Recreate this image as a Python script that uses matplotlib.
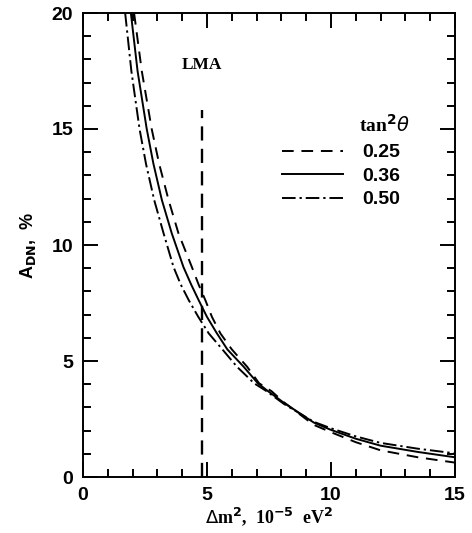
import matplotlib
matplotlib.use("Agg")
import matplotlib.pyplot as plt
from matplotlib.ticker import MultipleLocator

# Data (Δm² in 1e-5 eV², A_DN in %)
dm2_025 = [2.06, 2.37, 2.77, 3.07, 3.45, 3.85, 4.39, 4.66, 4.93, 5.20, 5.54, 6.00, 6.62, 7.10, 7.60, 8.10, 9.30, 10.0, 11.0, 12.0, 13.5, 15.0]
adn_025 = [20.0, 17.5, 15.0, 13.5, 11.94, 10.5, 9.05, 8.3, 7.63, 6.9, 6.19, 5.5, 4.75, 4.04, 3.7, 3.22, 2.25, 1.93, 1.50, 1.15, 0.85, 0.62]

dm2_036 = [1.93, 2.20, 2.57, 2.84, 3.18, 3.58, 4.05, 4.36, 4.66, 5.00, 5.40, 5.82, 6.48, 7.05, 7.46, 8.10, 9.30, 10.0, 11.0, 12.0, 13.5, 15.0]
adn_036 = [20.0, 17.5, 15.0, 13.5, 11.94, 10.5, 9.05, 8.3, 7.63, 6.9, 6.19, 5.5, 4.75, 4.04, 3.7, 3.20, 2.35, 2.03, 1.65, 1.35, 1.08, 0.85]

dm2_050 = [1.70, 1.95, 2.28, 2.54, 2.87, 3.25, 3.65, 3.94, 4.26, 4.65, 5.07, 5.62, 6.21, 6.90, 7.40, 8.10, 9.30, 10.0, 11.0, 12.0, 13.5, 15.0]
adn_050 = [20.0, 17.5, 15.0, 13.5, 11.94, 10.5, 9.05, 8.3, 7.63, 6.9, 6.19, 5.5, 4.75, 4.04, 3.7, 3.15, 2.38, 2.10, 1.75, 1.47, 1.22, 1.02]

labels = ["0.25", "0.36", "0.50"]
lma_dm2 = 4.8
lma_top = 15.8

fig = plt.figure(figsize=(4.72, 5.33), dpi=100)
ax = fig.add_axes([83/472, 1-477/533, 372/472, 464/533])

lw = 1.4
ax.plot(dm2_025, adn_025, color="black", lw=lw, dashes=(6, 4), label=labels[0])
ax.plot(dm2_036, adn_036, color="black", lw=lw, label=labels[1])
ax.plot(dm2_050, adn_050, color="black", lw=lw, dashes=(7, 2, 1.2, 2), label=labels[2])

ax.vlines(lma_dm2, 0, lma_top, color="black", lw=1.7, linestyles=(0, (6, 3.5)))

ax.set_xlim(0, 15)
ax.set_ylim(0, 20)
ax.xaxis.set_major_locator(MultipleLocator(5))
ax.xaxis.set_minor_locator(MultipleLocator(1))
ax.yaxis.set_major_locator(MultipleLocator(5))
ax.yaxis.set_minor_locator(MultipleLocator(1))
ax.tick_params(which="both", direction="in", top=True, right=True, width=1.4)
ax.tick_params(which="major", length=11, pad=7)
ax.tick_params(which="minor", length=6)
for s in ax.spines.values():
    s.set_linewidth(1.4)

for lab in ax.get_xticklabels() + ax.get_yticklabels():
    lab.set_fontfamily("Liberation Sans")
    lab.set_fontweight("bold")
    lab.set_fontsize(14)

ax.set_xlabel(r"$\Delta$m$^{\mathbf{2}}$,  10$^{\mathbf{-5}}$  eV$^{\mathbf{2}}$",
              family="Liberation Serif", weight="bold", size=13, labelpad=1)
ax.set_ylabel(r"A$_{\mathbf{DN}}$,  %", family="Liberation Sans", weight="bold",
              size=13, labelpad=10)

ax.text(lma_dm2, 17.75, "LMA", family="Liberation Serif", weight="bold", size=12.5,
        ha="center", va="center")

leg = ax.legend(loc="upper left", bbox_to_anchor=(0.535, 0.718), frameon=False,
                handlelength=3.15, handletextpad=1.0, labelspacing=0.3,
                borderpad=0, borderaxespad=0,
                prop=dict(family="Liberation Sans", weight="bold", size=14))
ax.text(12.15, 15.2, r"tan$^{\mathbf{2}}\theta$", family="Liberation Serif",
        weight="bold", size=14, ha="center", va="center")

fig.savefig("out.png", dpi=100)
